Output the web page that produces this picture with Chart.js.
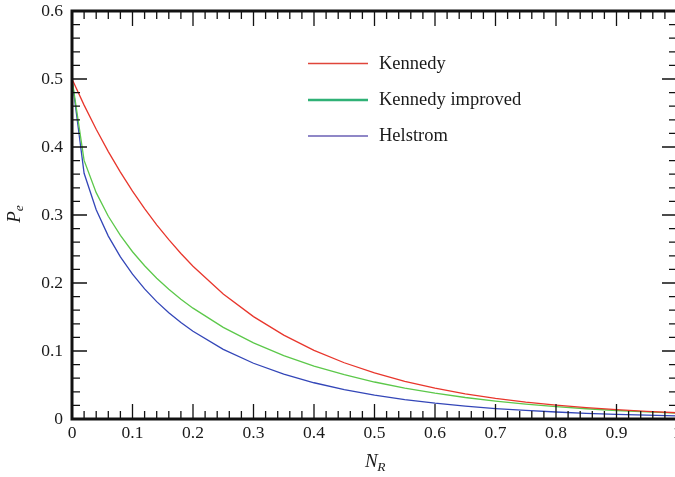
<!DOCTYPE html>
<html><head><meta charset="utf-8">
<script src="https://cdn.jsdelivr.net/npm/chart.js@4.4.1/dist/chart.umd.min.js"></script>
<style>
html,body{margin:0;padding:0;overflow:hidden;background:#fff;width:675px;height:477px}
#wrap{position:relative;width:690px;height:477px}
canvas{display:block}
</style>
</head><body><div id="wrap"><canvas id="c" width="690" height="477" style="width:690px;height:477px"></canvas></div>
<script>
const nR = [0,0.02,0.04,0.06,0.08,0.1,0.12,0.14,0.16,0.18,0.2,0.25,0.3,0.35,0.4,0.45,0.5,0.55,0.6,0.65,0.7,0.75,0.8,0.85,0.9,0.95,1];
const kennedy = [0.5,0.4616,0.4261,0.3933,0.3631,0.3352,0.3094,0.2856,0.2637,0.2434,0.2247,0.1839,0.1506,0.1233,0.1010,0.0827,0.0677,0.0554,0.0454,0.0371,0.0304,0.0249,0.0204,0.0167,0.0137,0.0112,0.0092];
const kennedyImproved = [0.5,0.3803,0.3329,0.2981,0.2699,0.2460,0.2253,0.2071,0.1908,0.1762,0.1630,0.1348,0.1120,0.0933,0.0779,0.0651,0.0544,0.0454,0.0379,0.0316,0.0263,0.0219,0.0182,0.0151,0.0125,0.0104,0.0086];
const helstrom = [0.5,0.3614,0.3077,0.2690,0.2384,0.2129,0.1913,0.1726,0.1562,0.1418,0.1290,0.1025,0.0820,0.0660,0.0533,0.0432,0.0351,0.0285,0.0232,0.0189,0.0154,0.0126,0.0103,0.0084,0.0069,0.0056,0.0046];
const xTickValues = [0,0.1,0.2,0.3,0.4,0.5,0.6,0.7,0.8,0.9,1];
const xTickLabels = ['0','0.1','0.2','0.3','0.4','0.5','0.6','0.7','0.8','0.9','1'];
const yTickValues = [0,0.1,0.2,0.3,0.4,0.5,0.6];
const yTickLabels = ['0','0.1','0.2','0.3','0.4','0.5','0.6'];
const seriesNames = ['Kennedy','Kennedy improved','Helstrom'];
const xTitle = ['N','R'];
const yTitle = ['P','e'];

const lineColors = ['#e8362c','#5cc84a','#3346b8'];
const legendColors = ['#e0453a','#2fb176','#6a5fb5'];
const legendWidths = [1.3,2.6,1.3];

function pts(ys){ return nR.map((x,i)=>({x:x,y:ys[i]})); }

const frameTicks = {
  id:'frameTicks',
  afterDatasetsDraw(chart){
    const {ctx, chartArea:a, scales:{x,y}} = chart;
    ctx.save();
    ctx.strokeStyle='#111';
    ctx.lineWidth=1.3;
    ctx.beginPath();
    for(let i=0;i<xTickValues.length;i++){
      const px=x.getPixelForValue(xTickValues[i]);
      ctx.moveTo(px,a.bottom); ctx.lineTo(px,a.bottom-15);
      ctx.moveTo(px,a.top); ctx.lineTo(px,a.top+15);
      if(i<xTickValues.length-1){
        const step=(xTickValues[i+1]-xTickValues[i])/5;
        for(let k=1;k<5;k++){
          const mp=x.getPixelForValue(xTickValues[i]+k*step);
          ctx.moveTo(mp,a.bottom); ctx.lineTo(mp,a.bottom-8);
          ctx.moveTo(mp,a.top); ctx.lineTo(mp,a.top+8);
        }
      }
    }
    for(let i=0;i<yTickValues.length;i++){
      const py=y.getPixelForValue(yTickValues[i]);
      ctx.moveTo(a.left,py); ctx.lineTo(a.left+15,py);
      ctx.moveTo(a.right,py); ctx.lineTo(a.right-15,py);
      if(i<yTickValues.length-1){
        const step=(yTickValues[i+1]-yTickValues[i])/5;
        for(let k=1;k<5;k++){
          const mp=y.getPixelForValue(yTickValues[i]+k*step);
          ctx.moveTo(a.left,mp); ctx.lineTo(a.left+8,mp);
          ctx.moveTo(a.right,mp); ctx.lineTo(a.right-8,mp);
        }
      }
    }
    ctx.stroke();
    ctx.lineWidth=3;
    ctx.strokeRect(a.left,a.top,a.right-a.left,a.bottom-a.top);

    const lx0=308, lx1=368, tx=379;
    const ly=[63.5,100,136];
    const tb=[68.5,104.5,140.5];
    ctx.font='18.5px "Liberation Serif", "Times New Roman", serif';
    ctx.textAlign='left'; ctx.textBaseline='alphabetic';
    for(let i=0;i<seriesNames.length;i++){
      ctx.strokeStyle=legendColors[i]; ctx.lineWidth=legendWidths[i];
      ctx.beginPath(); ctx.moveTo(lx0,ly[i]); ctx.lineTo(lx1,ly[i]); ctx.stroke();
      ctx.fillStyle='#1a1a1a';
      ctx.fillText(seriesNames[i],tx,tb[i]);
    }

    ctx.fillStyle='#1a1a1a';
    ctx.font='italic 19px "Liberation Serif", "Times New Roman", serif';
    const wN=ctx.measureText(xTitle[0]).width;
    ctx.font='italic 13.5px "Liberation Serif", "Times New Roman", serif';
    const wR=ctx.measureText(xTitle[1]).width;
    const cx=(a.left+a.right)/2+1;
    const sx=cx-(wN+wR)/2;
    ctx.font='italic 19px "Liberation Serif", "Times New Roman", serif';
    ctx.fillText(xTitle[0],sx,467);
    ctx.font='italic 13.5px "Liberation Serif", "Times New Roman", serif';
    ctx.fillText(xTitle[1],sx+wN-0.5,471);

    ctx.save();
    ctx.translate(19.5,(a.top+a.bottom)/2);
    ctx.rotate(-Math.PI/2);
    ctx.font='italic 19px "Liberation Serif", "Times New Roman", serif';
    const wP=ctx.measureText(yTitle[0]).width;
    ctx.font='italic 13.5px "Liberation Serif", "Times New Roman", serif';
    const we=ctx.measureText(yTitle[1]).width;
    const s0=-(wP+we)/2+1;
    ctx.font='italic 19px "Liberation Serif", "Times New Roman", serif';
    ctx.fillText(yTitle[0],s0,0);
    ctx.font='italic 13.5px "Liberation Serif", "Times New Roman", serif';
    ctx.fillText(yTitle[1],s0+wP,3.5);
    ctx.restore();
    ctx.restore();
  }
};

const tickFont={family:'"Liberation Serif", "Times New Roman", serif', size:17.5};

new Chart(document.getElementById('c'),{
  type:'line',
  data:{datasets:[
    {label:seriesNames[0],data:pts(kennedy),borderColor:lineColors[0],borderWidth:1.3,pointRadius:0,tension:0,fill:false},
    {label:seriesNames[1],data:pts(kennedyImproved),borderColor:lineColors[1],borderWidth:1.3,pointRadius:0,tension:0,fill:false},
    {label:seriesNames[2],data:pts(helstrom),borderColor:lineColors[2],borderWidth:1.3,pointRadius:0,tension:0,fill:false}
  ]},
  options:{
    responsive:false,
    animation:false,
    devicePixelRatio:1,
    layout:{padding:{top:11,right:13,left:0,bottom:0}},
    plugins:{legend:{display:false},tooltip:{enabled:false}},
    scales:{
      x:{type:'linear',min:0,max:1,
        afterFit(s){s.height=58;s.paddingLeft=0;s.paddingRight=0;s.paddingTop=0;s.paddingBottom=0;},
        afterBuildTicks(s){s.ticks=xTickValues.map(v=>({value:v}));},
        grid:{display:false,drawTicks:false},border:{display:false},
        ticks:{font:tickFont,color:'#1a1a1a',padding:3.5,maxRotation:0,autoSkip:false,
          callback:(v,i)=>xTickLabels[i]}},
      y:{type:'linear',min:0,max:0.6,
        afterFit(s){s.width=72;s.paddingTop=0;s.paddingBottom=0;s.paddingLeft=0;s.paddingRight=0;},
        afterBuildTicks(s){s.ticks=yTickValues.map(v=>({value:v}));},
        grid:{display:false,drawTicks:false},border:{display:false},
        ticks:{font:tickFont,color:'#1a1a1a',padding:9,autoSkip:false,
          callback:(v,i)=>yTickLabels[i]}}
    }
  },
  plugins:[frameTicks]
});
</script>
</body></html>
